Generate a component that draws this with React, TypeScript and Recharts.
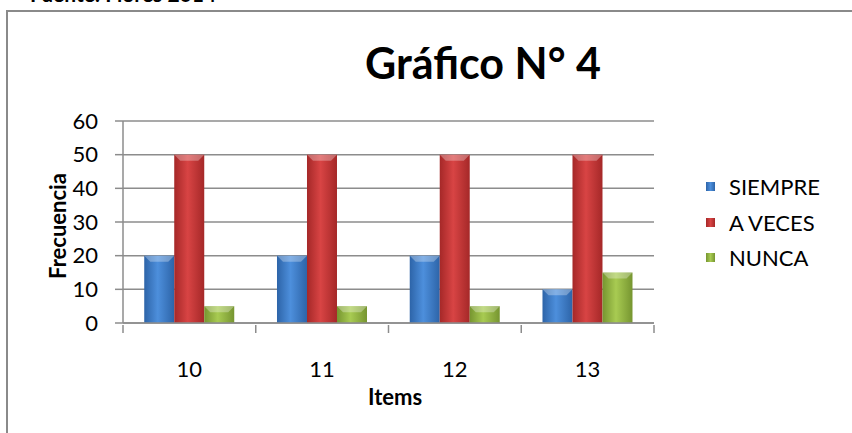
import React from "react";
import { BarChart, Bar, XAxis, YAxis, CartesianGrid } from "recharts";

const items = ["10", "11", "12", "13"];
const siempre = [20, 20, 20, 10];
const aVeces = [50, 50, 50, 50];
const nunca = [5, 5, 5, 15];
const yTicks = [0, 10, 20, 30, 40, 50, 60];

const series = [
  { key: "siempre", name: "SIEMPRE", id: "gBlue", edge: "#2d64a8", mid: "#4d8fdc" },
  { key: "aVeces", name: "A VECES", id: "gRed", edge: "#a52828", mid: "#d84444" },
  { key: "nunca", name: "NUNCA", id: "gGreen", edge: "#769530", mid: "#a8cb52" },
];

const data = items.map((item, i) => ({
  item,
  siempre: siempre[i],
  aVeces: aVeces[i],
  nunca: nunca[i],
}));

const FONT = "Lato, 'Open Sans', sans-serif";
const GRID = "#8c8c8c";
const FS = 22;

const W = 852;
const H = 433;
const M = { top: 121, right: 198, left: 63, bottom: 25 };
const Y_W = 60;
const X_H = 85;
const BAND = (W - M.left - Y_W - M.right) / items.length;

function XTick(props: any) {
  const { x, y, payload, index } = props;
  return (
    <g>
      <line x1={x - BAND / 2} y1={y} x2={x - BAND / 2} y2={y + 8} stroke={GRID} strokeWidth={1.5} />
      {index === items.length - 1 && (
        <line x1={x + BAND / 2} y1={y} x2={x + BAND / 2} y2={y + 8} stroke={GRID} strokeWidth={1.5} />
      )}
      <text x={x} y={y + 52} textAnchor="middle" fontSize={FS} fill="#000" fontFamily={FONT}>
        {payload.value}
      </text>
    </g>
  );
}

function BevelBar(props: any) {
  const { x, y, width, height, fill } = props;
  if (!height || height <= 0) return null;
  const b = Math.min(6, height / 2);
  return (
    <g>
      <rect x={x} y={y} width={width} height={height} fill={fill} />
      <polygon
        points={`${x},${y} ${x + width},${y} ${x + width - b},${y + b} ${x + b},${y + b}`}
        fill="#ffffff"
        fillOpacity={0.3}
      />
    </g>
  );
}

function YLabel(props: any) {
  const cy = 226;
  return (
    <text
      x={66}
      y={cy}
      transform={`rotate(-90, 66, ${cy})`}
      textAnchor="middle"
      fontSize={FS}
      fontWeight="bold"
      fontFamily={FONT}
      fill="#000"
    >
      Frecuencia
    </text>
  );
}

function XLabel(props: any) {
  return (
    <text
      x={395}
      y={405}
      textAnchor="middle"
      fontSize={FS}
      fontWeight="bold"
      fontFamily={FONT}
      fill="#000"
    >
      Items
    </text>
  );
}

export default function App() {
  return (
    <div style={{ position: "absolute", left: 0, top: 0, width: W, height: H, overflow: "hidden", background: "#fff" }}>
      <div
        style={{
          position: "absolute",
          left: 30,
          top: -17,
          fontFamily: FONT,
          fontWeight: "bold",
          fontSize: 21,
          lineHeight: "22px",
          whiteSpace: "nowrap",
        }}
      >
        Fuente: Flores 2014
      </div>
      <div
        style={{
          position: "absolute",
          left: 6,
          top: 10,
          width: W,
          height: H,
          borderLeft: "2px solid #8a8a8a",
          borderTop: "2px solid #8a8a8a",
        }}
      />
      <div
        style={{
          position: "absolute",
          left: 483 - 200,
          top: 38,
          width: 400,
          textAlign: "center",
          fontFamily: FONT,
          fontWeight: "bold",
          fontSize: 43,
          lineHeight: "50px",
        }}
      >
        Gráfico N° 4
      </div>
      <div style={{ position: "absolute", left: 0, top: 0 }}>
        <BarChart width={W} height={H} data={data} margin={M} barCategoryGap="16%" barGap={0}>
          <defs>
            {series.map((s) => (
              <linearGradient key={s.id} id={s.id} x1="0" y1="0" x2="1" y2="0">
                <stop offset="0%" stopColor={s.edge} />
                <stop offset="45%" stopColor={s.mid} />
                <stop offset="100%" stopColor={s.edge} />
              </linearGradient>
            ))}
          </defs>
          <CartesianGrid vertical={false} stroke={GRID} strokeWidth={1.5} />
          <XAxis
            dataKey="item"
            height={X_H}
            stroke={GRID}
            strokeWidth={1.5}
            tickLine={false}
            tickSize={0}
            tick={<XTick />}
            interval={0}
            label={<XLabel />}
          />
          <YAxis
            width={Y_W}
            domain={[0, 60]}
            ticks={yTicks}
            interval={0}
            stroke={GRID}
            strokeWidth={1.5}
            tickSize={8}
            tickMargin={17}
            tick={{ fill: "#000", fontSize: FS, fontFamily: FONT }}
            label={<YLabel />}
          />
          {series.map((s) => (
            <Bar
              key={s.key}
              dataKey={s.key}
              name={s.name}
              fill={`url(#${s.id})`}
              shape={<BevelBar />}
              isAnimationActive={false}
            />
          ))}
        </BarChart>
      </div>
      <div style={{ position: "absolute", left: 706, top: 169, fontFamily: FONT, fontSize: FS }}>
        {series.map((s) => (
          <div key={s.key} style={{ display: "flex", alignItems: "center", height: 35.5 }}>
            <span
              style={{
                display: "inline-block",
                width: 9,
                height: 9,
                marginRight: 14,
                background: `linear-gradient(90deg, ${s.edge}, ${s.mid}, ${s.edge})`,
              }}
            />
            {s.name}
          </div>
        ))}
      </div>
    </div>
  );
}
